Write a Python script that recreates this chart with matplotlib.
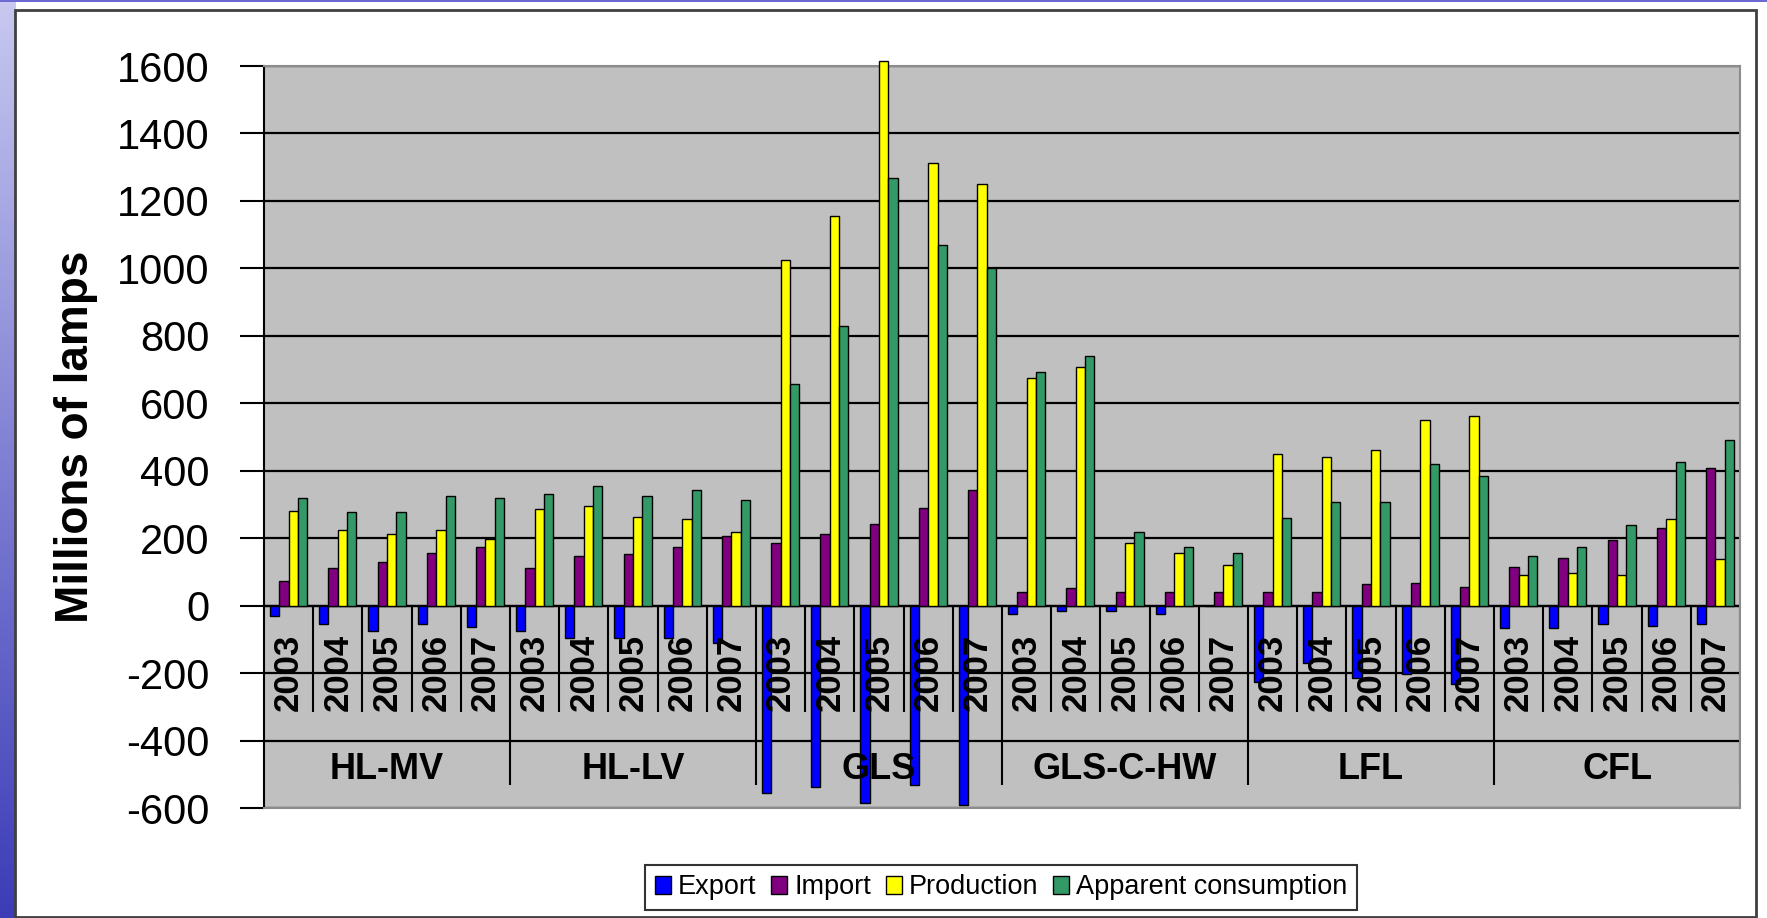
import numpy as np
import matplotlib.pyplot as plt
from matplotlib.patches import Rectangle

plt.rcParams['font.family'] = ['Liberation Sans', 'DejaVu Sans']
plt.rcParams['axes.unicode_minus'] = False

# ---------------------------- data --------------------------------------------
groups = ['HL-MV', 'HL-LV', 'GLS', 'GLS-C-HW', 'LFL', 'CFL']
years = ['2003', '2004', '2005', '2006', '2007']

export = [-30, -55, -74, -55, -62,
          -74, -97, -97, -97, -110,
          -555, -538, -584, -531, -592,
          -25, -15, -15, -25, 0,
          -226, -171, -216, -203, -231,
          -67, -67, -54, -60, -54]
imports = [74, 111, 129, 157, 175,
           111, 146, 152, 175, 205,
           187, 212, 242, 289, 344,
           39, 51, 39, 39, 39,
           39, 39, 63, 68, 56,
           116, 141, 195, 230, 408]
production = [282, 223, 211, 223, 197,
              287, 294, 264, 258, 217,
              1026, 1156, 1615, 1311, 1251,
              675, 709, 185, 155, 121,
              449, 442, 460, 549, 561,
              91, 96, 91, 257, 138]
apparent = [318, 277, 277, 324, 318,
            331, 355, 324, 342, 312,
            657, 830, 1268, 1068, 1001,
            693, 739, 217, 175, 157,
            260, 307, 307, 420, 383,
            146, 175, 240, 425, 490]

series = [('Export', export, '#0000FF'),
          ('Import', imports, '#800080'),
          ('Production', production, '#FFFF00'),
          ('Apparent consumption', apparent, '#339966')]

# ---------------------------- figure ------------------------------------------
W, H = 1767, 918
fig = plt.figure(figsize=(W / 100, H / 100), dpi=100)
fig.patch.set_facecolor('white')

# slide background strip on the left
bg = fig.add_axes([0, 0, 15 / W, 1])
grad = np.linspace(0, 1, 256).reshape(-1, 1)
bg.imshow(grad, aspect='auto', cmap=plt.matplotlib.colors.LinearSegmentedColormap.from_list(
    'slide', ['#3c3cb8', '#8080d4', '#c8c8f0']), origin='lower')
bg.axis('off')
fig.add_artist(Rectangle((0, 1 - 2 / H), 1, 2 / H, transform=fig.transFigure,
                         facecolor='#6a6ad0', edgecolor='none'))
# chart frame
fig.add_artist(Rectangle((15 / W, 1 / H), (1756 - 15) / W, (917 - 10) / H,
                         transform=fig.transFigure, facecolor='none',
                         edgecolor='#404040', lw=2))

ax = fig.add_axes([264 / W, 1 - 808 / H, (1740 - 264) / W, (808 - 66) / H])
ax.set_facecolor('#C0C0C0')

n = len(export)
x = np.arange(n)
w = 0.19
for k, (name, vals, col) in enumerate(series):
    ax.bar(x + (k - 1.5) * w, vals, w, color=col, edgecolor='black', lw=1.0,
           label=name, zorder=3, clip_on=False)

ax.set_xlim(-0.5, n - 0.5)
ax.set_ylim(-600, 1600)
ax.set_yticks(range(-600, 1601, 200))
ax.yaxis.grid(True, color='black', lw=1.6, zorder=1)
ax.set_axisbelow(True)
ax.axhline(0, color='black', lw=1.6, zorder=2)

ax.tick_params(axis='y', labelsize=30, length=17, width=1.5, pad=22, direction='out')
ax.set_xticks([])
ax.spines['left'].set_linewidth(1.5)
for s in ['top', 'right', 'bottom']:
    ax.spines[s].set_color('#8c8c8c')
    ax.spines[s].set_linewidth(1.5)

ax.set_ylabel('Millions of lamps', fontsize=33, fontweight='bold', labelpad=14)

# multi-level category labels drawn inside the plot area
for i in range(n):
    ax.text(x[i], -198, years[i % 5], rotation=90, ha='center', va='center',
            fontsize=25, fontweight='bold', zorder=5)
for g, name in enumerate(groups):
    ax.text(g * 5 + 2, -485, name, ha='center', va='center',
            fontsize=26, fontweight='bold', zorder=5)
for b in range(1, n + 1):
    if b % 5 == 0:
        ax.vlines(b - 0.5, -532, 0, color='black', lw=1.5, zorder=2)
    else:
        ax.vlines(b - 0.5, -315, 0, color='black', lw=1.5, zorder=2)

leg = fig.legend(loc='center', bbox_to_anchor=(1001 / W, 1 - 887.5 / H), ncol=4,
                 fontsize=19.5, frameon=True, fancybox=False, edgecolor='black',
                 handlelength=0.6, handleheight=0.65, handletextpad=0.25,
                 columnspacing=0.55, borderpad=0.35)
leg.get_frame().set_linewidth(1.5)

fig.savefig('out.png', dpi=100)
